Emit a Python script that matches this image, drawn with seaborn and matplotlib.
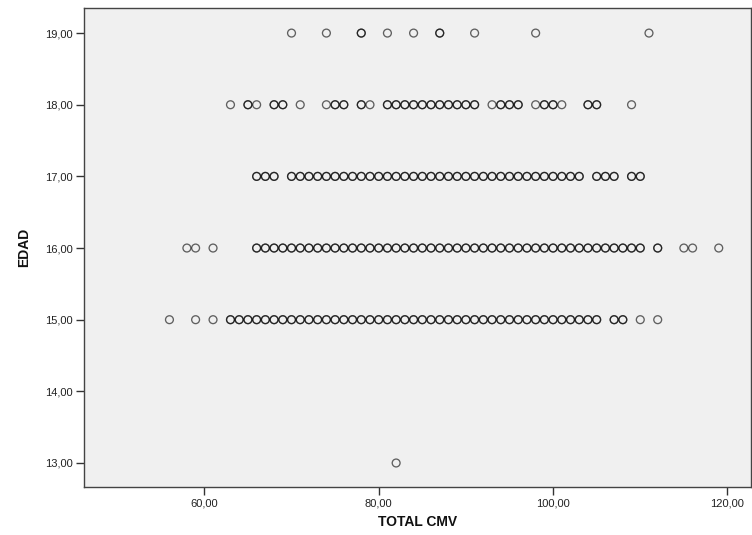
import matplotlib
matplotlib.use("Agg")
import matplotlib.pyplot as plt
import seaborn as sns
import pandas as pd
from matplotlib.ticker import FixedLocator, FuncFormatter

# ---- data (TOTAL CMV by EDAD) ----
cmv_19 = [70, 74, 78, 78, 81, 84, 87, 87, 91, 98, 111]
cmv_18 = [63, 65, 66, 68, 69, 71, 74, 75, 76, 78, 79, 81, 82, 83, 84, 85, 86,
          87, 88, 89, 90, 91, 93, 94, 95, 96, 98, 99, 100, 101, 104, 105, 109]
cmv_17 = [66, 67, 68, 70, 71, 72, 73, 74, 75, 76, 77, 78, 79, 80, 81, 82, 83,
          84, 85, 86, 87, 88, 89, 90, 91, 92, 93, 94, 95, 96, 97, 98, 99, 100,
          101, 102, 103, 105, 106, 107, 109, 110]
cmv_16 = [58, 59, 61, 66, 67, 68, 69, 70, 71, 72, 73, 74, 75, 76, 77, 78, 79,
          80, 81, 82, 83, 84, 85, 86, 87, 88, 89, 90, 91, 92, 93, 94, 95, 96,
          97, 98, 99, 100, 101, 102, 103, 104, 105, 106, 107, 108, 109, 110,
          112, 112, 115, 116, 119]
cmv_15 = [56, 59, 61, 63, 64, 65, 66, 67, 68, 69, 70, 71, 72, 73, 74, 75, 76,
          77, 78, 79, 80, 81, 82, 83, 84, 85, 86, 87, 88, 89, 90, 91, 92, 93,
          94, 95, 96, 97, 98, 99, 100, 101, 102, 103, 104, 105, 107, 108, 110,
          112]
cmv_13 = [82]
# repeated observations (values that occur more than once: darker circles)
rep_18 = [65, 68, 69, 75, 76, 78, 81, 82, 83, 84, 85, 86, 87, 88, 89, 90, 91,
          94, 95, 96, 99, 100, 104, 105]
rep_17 = [66, 67, 68, 70, 71, 72, 73, 74, 75, 76, 77, 78, 79, 80, 81, 82, 83,
          84, 85, 86, 87, 88, 89, 90, 91, 92, 93, 94, 95, 96, 97, 98, 99, 100,
          101, 102, 103, 105, 106, 107, 109, 110]
rep_16 = [66, 67, 68, 69, 70, 71, 72, 73, 74, 75, 76, 77, 78, 79, 80, 81, 82,
          83, 84, 85, 86, 87, 88, 89, 90, 91, 92, 93, 94, 95, 96, 97, 98, 99,
          100, 101, 102, 103, 104, 105, 106, 107, 108, 109, 110]
rep_15 = [63, 64, 65, 66, 67, 68, 69, 70, 71, 72, 73, 74, 75, 76, 77, 78, 79,
          80, 81, 82, 83, 84, 85, 86, 87, 88, 89, 90, 91, 92, 93, 94, 95, 96,
          97, 98, 99, 100, 101, 102, 103, 104, 105, 107, 108]

x_ticks = [60, 80, 100, 120]
y_ticks = [13, 14, 15, 16, 17, 18, 19]

rows = []
for age, vals in [(19, cmv_19), (18, cmv_18 + rep_18), (17, cmv_17 + rep_17),
                  (16, cmv_16 + rep_16), (15, cmv_15 + rep_15), (13, cmv_13)]:
    for v in vals:
        rows.append({"TOTAL CMV": v, "EDAD": age})
df = pd.DataFrame(rows)

sns.set_theme(style="white")
plt.rcParams["font.family"] = ["Liberation Sans", "DejaVu Sans"]

fig = plt.figure(figsize=(7.52, 5.35), dpi=100)
ax = fig.add_axes([84 / 752, 1 - 487 / 535, (751 - 84) / 752, (487 - 8) / 535])
ax.set_facecolor("#f0f0f0")

sns.scatterplot(data=df, x="TOTAL CMV", y="EDAD", ax=ax, s=32,
                marker="o", color="black", linewidth=0.95, legend=False)
coll = ax.collections[0]
coll.set_facecolor("none")
coll.set_edgecolor((0, 0, 0, 0.6))

ax.set_xlim(46.2, 122.7)
ax.set_ylim(12.665, 19.35)
ax.xaxis.set_major_locator(FixedLocator(x_ticks))
ax.yaxis.set_major_locator(FixedLocator(y_ticks))
fmt = FuncFormatter(lambda v, p: f"{v:.2f}".replace(".", ","))
ax.xaxis.set_major_formatter(fmt)
ax.yaxis.set_major_formatter(fmt)

ax.tick_params(axis="both", which="major", length=6, width=1, color="#333333",
               labelsize=8, labelcolor="#222222", direction="out", pad=2,
               bottom=True, left=True)
for sp in ax.spines.values():
    sp.set_color("#444444")
    sp.set_linewidth(1.0)

ax.set_xlabel("TOTAL CMV", fontsize=10, fontweight="bold", labelpad=5,
              color="#111111")
ax.set_ylabel("EDAD", fontsize=10, fontweight="bold", labelpad=10,
              color="#111111")

fig.savefig("out.png", dpi=100)
